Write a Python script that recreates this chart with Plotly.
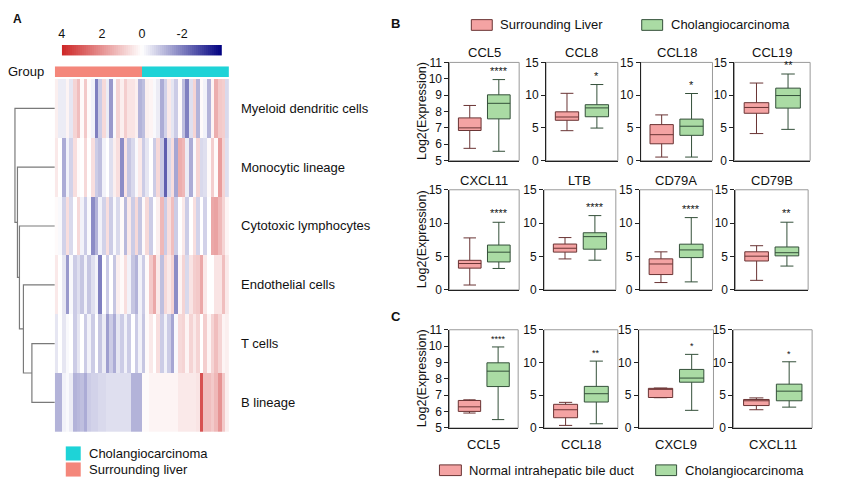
import numpy as np
import plotly.graph_objects as go

W, H = 846, 503
FONT = "Liberation Sans, Arial, sans-serif"

# ---------------- Panel A data ----------------
cell_types = ["Myeloid dendritic cells", "Monocytic lineage", "Cytotoxic lymphocytes",
              "Endothelial cells", "T cells", "B lineage"]
sample_groups = ["Surrounding liver"] * 24 + ["Cholangiocarcinoma"] * 24

myeloid = [0.3, -0.3, -0.3, 0.2, -0.4, 0.8, 1.2, 0.1, 1.0, 0.1, -0.2, -2.0, -0.8, 0.7, -0.3, -1.6,
           -0.1, 0.8, 0.3, 0.9, 0.5, 0.5, 0.3, -1.2, -1.0, 0.3, 0.2, -0.1, -0.3, -1.3, -0.7, 0.4,
           -0.4, -0.8, 0.1, -1.0, -2.0, -0.5, 0.8, -1.2, 0.1, -0.2, -1.2, 0.2, 1.5, 1.0, 0.9, -0.6]
monocytic = [0.4, 0.0, -1.3, -0.2, -0.7, 0.6, 0.1, 0.0, 0.7, 0.0, 0.6, -0.8, -1.0, -0.2, 0.0, -0.5,
             0.3, 0.6, -1.8, 0.5, -0.9, -0.6, -0.1, 0.4, -0.8, -0.4, 0.0, -0.8, 0.7, -0.8, -2.5, -0.6,
             0.6, -1.4, 1.5, 1.3, -0.3, -1.3, -0.1, 0.8, -0.6, -0.5, 0.1, 0.9, 0.1, 1.8, 0.8, -0.5]
cytotoxic = [0.1, -0.1, -0.7, 0.6, -0.6, 0.0, 0.7, -0.2, -0.8, -0.1, -1.8, -1.2, -0.2, -0.7, 0.6, -0.8,
             -0.1, -0.6, 0.1, -1.1, 0.4, -0.8, 0.7, -0.9, 0.1, 0.7, -0.8, 0.0, 0.3, 1.3, -0.8, 0.6,
             1.2, -0.8, 0.0, 0.4, -0.8, 0.0, 0.6, -0.7, 0.0, -0.7, 0.0, 1.6, 1.7, 1.3, 0.8, 0.2]
endothelial = [0.4, 0.0, -0.4, -1.6, -0.1, -0.8, -0.5, -0.9, -0.2, -0.9, -0.5, -0.2, -2.0, 0.0, -0.8, 0.0,
               -0.9, 0.3, 0.1, 0.6, -0.2, -0.9, -1.2, -0.2, -0.8, 0.1, 1.0, 1.6, 0.4, -1.0, 0.7, 0.4,
               0.8, -1.8, 0.2, 0.8, -0.6, 0.5, 0.9, 1.0, 1.6, 0.4, 0.0, 0.0, 0.5, 0.5, 1.2, 0.4]
t_cells = [-0.4, 0.0, -0.4, -0.1, 0.0, -0.8, -0.4, 0.0, -0.8, -0.2, -0.8, 0.0, -0.9, -0.3, -1.5, -0.8,
           -1.3, -0.4, -0.8, -0.2, -0.8, 0.0, -0.8, -0.2, -0.9, 0.1, 0.4, 0.0, 0.6, -0.8, -0.2, -0.8,
           -1.4, -0.1, 0.7, 0.8, 0.2, 0.8, 0.4, 0.8, 0.0, 0.9, 0.2, 0.8, 1.2, 0.8, 0.2, 0.3]
b_lineage = [-1.2, -1.2, -0.2, -0.1, -0.3, -1.2, -1.1, -1.0, -1.3, -0.8, -0.7, -0.7, -0.6, -0.6, -0.5, -0.5,
             -0.5, -0.5, -0.5, -0.5, -0.5, -1.2, -1.2, -1.2, 0.1, 0.1, 0.2, 0.2, 0.2, 0.2, 0.2, 0.2,
             0.2, 0.2, 0.4, 0.4, 0.4, 0.4, 0.4, 0.5, 3.2, 1.2, 1.2, 1.0, 1.3, 2.0, 1.0, 0.3]
heat_rows = [myeloid, monocytic, cytotoxic, endothelial, t_cells, b_lineage]

# dendrogram merges: (child_a, child_b, height); indices >= 6 are earlier clusters
dendro_merges = [(4, 5, 23.0), (3, 6, 31.5), (2, 7, 35.5), (1, 8, 37.5), (0, 9, 40.0)]

colorbar_ticks = [4, 2, 0, -2]

# ---------------- Panels B / C data ----------------
# each stat list: [lower whisker, q1, median, q3, upper whisker]
genes_B1 = ["CCL5", "CCL8", "CCL18", "CCL19"]
B1_liver = [[5.75, 6.84, 7.0, 7.61, 8.37], [4.57, 6.16, 6.66, 7.45, 10.28],
            [0.54, 2.57, 3.96, 5.5, 6.98], [4.13, 7.23, 8.12, 8.85, 11.85]]
B1_cca = [[5.57, 7.55, 8.5, 9.02, 9.95], [4.97, 6.7, 8.05, 8.54, 11.62],
          [0.54, 3.86, 5.25, 6.34, 10.25], [4.77, 8.02, 9.94, 11.07, 13.23]]
B1_stars = ["****", "*", "*", "**"]

genes_B2 = ["CXCL11", "LTB", "CD79A", "CD79B"]
B2_liver = [[0.73, 3.26, 3.95, 4.43, 7.79], [4.64, 5.66, 6.24, 6.87, 7.84],
            [1.1, 2.3, 3.88, 4.65, 5.7], [1.43, 4.33, 5.05, 5.71, 6.62]]
B2_cca = [[3.21, 4.19, 5.65, 6.72, 10.13], [4.45, 6.1, 7.98, 8.56, 11.13],
          [1.2, 4.84, 5.99, 6.85, 10.83], [3.57, 5.1, 5.57, 6.43, 10.14]]
B2_stars = ["****", "****", "****", "**"]

genes_C = ["CCL5", "CCL18", "CXCL9", "CXCL11"]
C_normal = [[5.91, 6.01, 6.29, 6.68, 6.72], [0.39, 1.56, 2.78, 3.61, 3.91],
            [4.62, 4.65, 5.95, 6.05, 6.1], [2.78, 3.42, 4.15, 4.35, 4.59]]
C_cca = [[5.51, 7.53, 8.47, 8.98, 9.95], [0.64, 3.96, 5.23, 6.35, 10.21],
         [2.69, 6.99, 7.62, 8.94, 11.24], [3.18, 4.15, 5.62, 6.69, 10.11]]
C_stars = ["****", "**", "*", "*"]

legend_B = ["Surrounding Liver", "Cholangiocarcinoma"]
legend_C = ["Normal intrahepatic bile duct", "Cholangiocarcinoma"]
legend_A = ["Cholangiocarcinoma", "Surrounding liver"]

# ---------------- styling ----------------
SALMON = "#F4877B"
CYAN = "#1ED3D7"
PINK_FILL, PINK_LINE = "#F4A3A3", "#6a3434"
GREEN_FILL, GREEN_LINE = "#AADBA4", "#34503a"
HEAT_SCALE = [[0, "#000080"], [0.5, "#FFFFFF"], [1, "#CD2626"]]


def fx(px):
    return px / W


def fy(py):
    return 1 - py / H


fig = go.Figure()
layout = {}
annotations = []
shapes = []


def ann(x, y, text, size=12, xanchor="center", yanchor="middle", bold=False, angle=0, color="#111"):
    annotations.append(dict(x=fx(x), y=fy(y), xref="paper", yref="paper", text=f"<b>{text}</b>" if bold else text,
                            showarrow=False, xanchor=xanchor, yanchor=yanchor, textangle=angle,
                            font=dict(family=FONT, size=size, color=color)))


def hidden_axis(dom, rng=None, reverse=False, anchor=None):
    d = dict(domain=dom, showgrid=False, zeroline=False, showticklabels=False, ticks="", showline=False)
    if rng is not None:
        d["range"] = rng
    if reverse and rng is None:
        d["autorange"] = "reversed"
    if anchor:
        d["anchor"] = anchor
    return d


# ---------- heatmap (axis 1) ----------
HM_L, HM_R, HM_T, HM_B = 52, 227, 74, 437
ncol = len(sample_groups)
fig.add_trace(go.Heatmap(z=heat_rows, x=list(range(ncol)), y=list(range(len(cell_types))),
                         colorscale=HEAT_SCALE, zmin=-4, zmax=4, showscale=False,
                         xaxis="x", yaxis="y", hoverinfo="skip"))
layout["xaxis"] = hidden_axis([fx(HM_L), fx(HM_R)], [-0.5, ncol - 0.5], anchor="y")
layout["yaxis"] = hidden_axis([fy(HM_B), fy(HM_T)], [len(cell_types) - 0.5, -0.5], anchor="x")
row_h = (HM_B - HM_T) / len(cell_types)
for i, name in enumerate(cell_types):
    ann(237, HM_T + row_h * (i + 0.5), name, size=13, xanchor="left")

# ---------- group bar (axis 2) ----------
group_codes = [[0 if g == "Surrounding liver" else 1 for g in sample_groups]]
fig.add_trace(go.Heatmap(z=group_codes, x=list(range(ncol)), colorscale=[[0, SALMON], [0.5, SALMON], [0.5, CYAN], [1, CYAN]],
                         zmin=0, zmax=1, showscale=False, xaxis="x2", yaxis="y2", hoverinfo="skip"))
layout["xaxis2"] = hidden_axis([fx(HM_L), fx(HM_R)], [-0.5, ncol - 0.5], anchor="y2")
layout["yaxis2"] = hidden_axis([fy(72), fy(61)], [-0.5, 0.5], anchor="x2")
ann(3, 66, "Group", size=13, xanchor="left")

# ---------- colour key (axis 3) ----------
key_vals = np.linspace(-3.95, 3.95, 80)
fig.add_trace(go.Heatmap(z=[key_vals], x=key_vals, colorscale=HEAT_SCALE, zmin=-4, zmax=4, showscale=False,
                         xaxis="x3", yaxis="y3", hoverinfo="skip"))
layout["xaxis3"] = dict(domain=[fx(59), fx(220)], range=[4, -4], side="top", anchor="y3",
                        tickvals=colorbar_ticks, ticktext=[str(t) for t in colorbar_ticks],
                        ticks="", showgrid=False, zeroline=False, showline=False, ticklabelstandoff=3,
                        tickfont=dict(family=FONT, size=12.5, color="#111"))
layout["yaxis3"] = hidden_axis([fy(50), fy(39)], [-0.5, 0.5], anchor="x3")

# ---------- dendrogram (axis 4) ----------
pos = {i: (float(i), 0.0) for i in range(len(cell_types))}
dx, dy = [], []
for k, (a, b, h) in enumerate(dendro_merges):
    ya, ha = pos[a]
    yb, hb = pos[b]
    dx += [ha, h, h, hb, None]
    dy += [ya, ya, yb, yb, None]
    pos[len(cell_types) + k] = ((ya + yb) / 2, h)
fig.add_trace(go.Scatter(x=dx, y=dy, mode="lines", line=dict(color="#7a7a7a", width=1.2),
                         xaxis="x4", yaxis="y4", showlegend=False, hoverinfo="skip"))
layout["xaxis4"] = hidden_axis([0, fx(HM_L)], [HM_L, 0], anchor="y4")
layout["yaxis4"] = hidden_axis([fy(HM_B), fy(HM_T)], [len(cell_types) - 0.5, -0.5], anchor="x4")

# legend of panel A
for i, (lab, col) in enumerate(zip(legend_A, [CYAN, SALMON])):
    y0 = 452 + i * 16.5
    shapes.append(dict(type="rect", xref="paper", yref="paper", x0=fx(63), x1=fx(78), y0=fy(y0 + 14.5), y1=fy(y0),
                       fillcolor=col, line=dict(width=0)))
    ann(84, y0 + 7.3, lab, size=13, xanchor="left")

# ---------- box panels ----------
rows = [
    dict(genes=genes_B1, a=B1_liver, b=B1_cca, stars=B1_stars, top=57, bot=158,
         xs=[(448, 518), (545, 617), (640, 712), (734, 810)], title_y=47, star_size=11),
    dict(genes=genes_B2, a=B2_liver, b=B2_cca, stars=B2_stars, top=188, bot=291,
         xs=[(448, 518), (543, 615), (639, 712), (735, 808)], title_y=178, star_size=11),
    dict(genes=genes_C, a=C_normal, b=C_cca, stars=C_stars, top=332, bot=433,
         xs=[(448, 517), (543, 617), (638, 713), (733, 812)], title_y=450, star_size=9),
]

ax = 5
for r in rows:
    for j, gene in enumerate(r["genes"]):
        xn, yn = f"x{ax}", f"y{ax}"
        for xpos, st, fill, lc in [(0, r["a"][j], PINK_FILL, PINK_LINE), (1, r["b"][j], GREEN_FILL, GREEN_LINE)]:
            fig.add_trace(go.Box(x=[xpos], lowerfence=[st[0]], q1=[st[1]], median=[st[2]], q3=[st[3]],
                                 upperfence=[st[4]], fillcolor=fill, line=dict(color=lc, width=1),
                                 width=0.78, whiskerwidth=0.55, boxpoints=False, showlegend=False,
                                 xaxis=xn, yaxis=yn, hoverinfo="skip"))
        small = gene == "CCL5"
        yr = [5, 11] if small else [0, 15]
        x0, x1 = r["xs"][j]
        layout[f"xaxis{ax}"] = dict(domain=[fx(x0), fx(x1)], range=[-0.7, 1.7], anchor=yn,
                                    showticklabels=False, ticks="", showgrid=False, zeroline=False,
                                    showline=True, linecolor="#222", linewidth=1)
        layout[f"yaxis{ax}"] = dict(domain=[fy(r["bot"]), fy(r["top"])], range=yr, anchor=xn,
                                    dtick=1 if small else 5, ticks="outside", ticklen=4, tickcolor="#222",
                                    showgrid=False, zeroline=False, showline=True, linecolor="#222", linewidth=1,
                                    tickfont=dict(family=FONT, size=12, color="#111"))
        shapes.append(dict(type="rect", xref=f"{xn} domain", yref=f"{yn} domain", x0=0, x1=1, y0=0, y1=1,
                           line=dict(color="#9a9a9a", width=1), layer="below"))
        annotations.append(dict(x=1, y=r["b"][j][4], xref=xn, yref=yn, text=r["stars"][j], showarrow=False,
                                yanchor="bottom", yshift=1, font=dict(family=FONT, size=r["star_size"], color="#111")))
        ann((x0 + x1) / 2, r["title_y"], gene, size=13)
        ax += 1
    ann(420, (r["top"] + r["bot"]) / 2, "Log2(Expression)", size=12.5, angle=-90)

# legends B and C
for (labs, yc, boxes) in [(legend_B, 18.5, [(470, 491), (641, 662)]),
                          (legend_C, 476.5, [(438, 460), (655, 676)])]:
    for lab, (bx0, bx1), fill, lc in zip(labs, boxes, [PINK_FILL, GREEN_FILL], [PINK_LINE, GREEN_LINE]):
        shapes.append(dict(type="rect", xref="paper", yref="paper", x0=fx(bx0), x1=fx(bx1),
                           y0=fy(yc + 5.5), y1=fy(yc - 5.5), fillcolor=fill, line=dict(color=lc, width=1)))
        ann(bx1 + 6, yc, lab, size=13, xanchor="left")

# panel letters
ann(8, 12, "A", size=12, xanchor="left", bold=True)
ann(387, 17, "B", size=13, xanchor="left", bold=True)
ann(387, 318, "C", size=13, xanchor="left", bold=True)

fig.update_layout(width=W, height=H, margin=dict(l=0, r=0, t=0, b=0), paper_bgcolor="white",
                  plot_bgcolor="rgba(0,0,0,0)", annotations=annotations, shapes=shapes,
                  font=dict(family=FONT, color="#111"), showlegend=False, **layout)
fig.write_html("out.html")
